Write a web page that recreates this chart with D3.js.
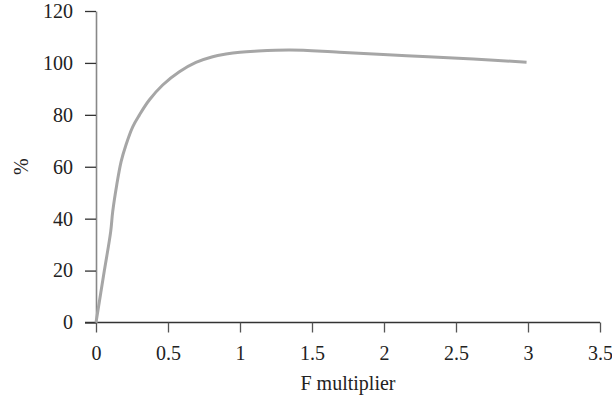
<!DOCTYPE html>
<html>
<head>
<meta charset="utf-8">
<script src="https://cdn.jsdelivr.net/npm/d3@7"></script>
<style>
  html, body { margin: 0; padding: 0; background: #fff; }
  svg { display: block; }
  text { font-family: "Liberation Serif", "Times New Roman", serif; fill: #222; }
</style>
</head>
<body>
<svg id="chart" width="612" height="399"></svg>
<script>
const fMultiplier = [0, 0.058, 0.102, 0.116, 0.144, 0.174, 0.208, 0.255, 0.301, 0.370, 0.463, 0.579, 0.694, 0.810, 0.903, 1.0, 1.1, 1.347, 1.69, 2.157, 2.62, 2.99];
const percent     = [0, 20.0, 35.0, 42.7, 53.0, 61.9, 68.4, 75.4, 79.9, 85.7, 91.5, 96.6, 100.2, 102.4, 103.4, 104.1, 104.5, 105.0, 104.1, 102.8, 101.5, 100.3];
const xTicks = [0, 0.5, 1, 1.5, 2, 2.5, 3, 3.5];
const yTicks = [0, 20, 40, 60, 80, 100, 120];
const xLabel = "F multiplier";
const yLabel = "%";

const W = 612, H = 399;
const margin = {left: 96, right: 12, top: 11, bottom: 76.5};
const svg = d3.select("#chart");

const x = d3.scaleLinear().domain([0, 3.5]).range([margin.left, W - margin.right]);
const y = d3.scaleLinear().domain([0, 120]).range([H - margin.bottom, margin.top]);

// X axis
const xAxis = svg.append("g")
  .attr("transform", `translate(0,${y(0)})`)
  .call(d3.axisBottom(x).tickValues(xTicks).tickFormat(d3.format("")).tickSize(10).tickPadding(13).tickSizeOuter(0));
xAxis.select(".domain").attr("stroke", "#333").attr("stroke-width", 1.3)
  .attr("d", `M${x(0) - 11},0H${x(3.5)}`);
xAxis.selectAll(".tick line").attr("stroke", "#555").attr("stroke-width", 1.3);
xAxis.selectAll(".tick text").attr("font-size", 20).attr("fill", "#222")
  .attr("font-family", "Liberation Serif, serif");

// Y axis
const yAxis = svg.append("g")
  .attr("transform", `translate(${x(0)},0)`)
  .call(d3.axisLeft(y).tickValues(yTicks).tickSize(11).tickPadding(12).tickSizeOuter(0));
yAxis.select(".domain").attr("stroke", "#888").attr("stroke-width", 1.6);
yAxis.selectAll(".tick line").attr("stroke", "#333").attr("stroke-width", 1.3);
yAxis.selectAll(".tick text").attr("font-size", 20).attr("fill", "#222")
  .attr("font-family", "Liberation Serif, serif");

// Line
const line = d3.line().x((d, i) => x(fMultiplier[i])).y(d => y(d)).curve(d3.curveCatmullRom.alpha(0.5));
svg.append("path")
  .datum(percent)
  .attr("fill", "none")
  .attr("stroke", "#a6a6a6")
  .attr("stroke-width", 3)
  .attr("stroke-linejoin", "round")
  .attr("d", line);

// Axis labels
svg.append("text")
  .attr("x", (x(0) + x(3.5)) / 2)
  .attr("y", 390)
  .attr("text-anchor", "middle")
  .attr("font-size", 20)
  .text(xLabel);

svg.append("text")
  .attr("transform", `translate(28,${y(60)}) rotate(-90)`)
  .attr("text-anchor", "middle")
  .attr("font-size", 20)
  .text(yLabel);
</script>
</body>
</html>
